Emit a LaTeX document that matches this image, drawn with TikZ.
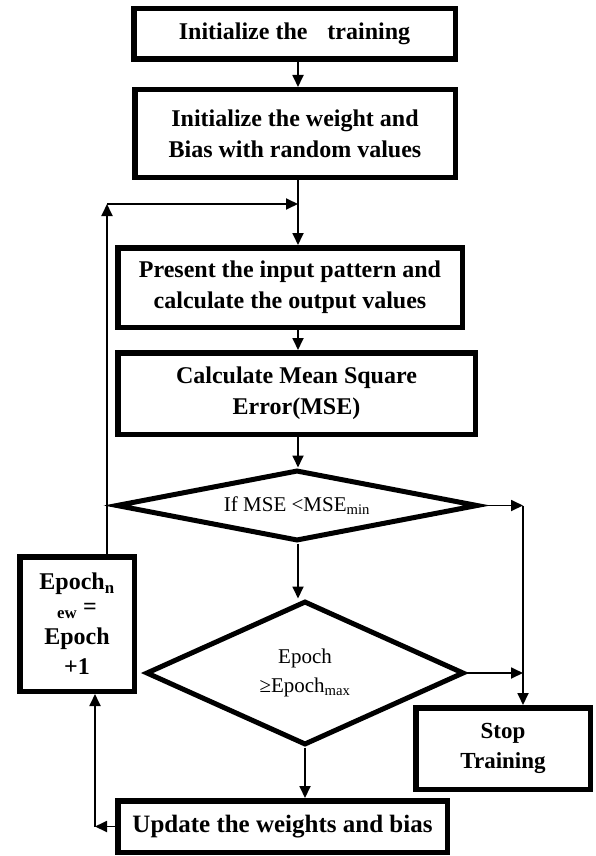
\documentclass[tikz,border=0pt]{standalone}
\usepackage{fontspec}
\setmainfont{Liberation Serif}
\usetikzlibrary{arrows.meta,shapes.geometric}
\begin{document}
\begin{tikzpicture}[x=1pt,y=-1pt,
  box/.style={draw, line width=5.5pt, rectangle, inner sep=0pt, align=center,
              font=\bfseries\fontsize{24}{31}\selectfont},
  dia/.style={draw, line width=5pt, diamond, inner sep=0pt, align=center,
              font=\fontsize{21}{29}\selectfont},
  arr/.style={line width=1.8pt, -{Triangle[length=12pt,width=11pt]}}]
\useasboundingbox (0,0) rectangle (595,856);

\node[box, minimum width=321.5pt, minimum height=50.5pt] (b1) at (294.5,34)
  {Initialize the\hspace{14pt} training};
\node[box, minimum width=320.5pt, minimum height=87.5pt] (b2) at (295,133.5)
  {Initialize the weight and\\Bias with random values};
\node[box, minimum width=344.5pt, minimum height=79.5pt] (b3) at (290,287.5)
  {Present the input pattern and\\calculate the output values};
\node[box, minimum width=357.5pt, minimum height=81.5pt] (b4) at (296.5,393.5)
  {Calculate Mean Square\\Error(MSE)};
\node[dia, aspect=5, minimum width=362pt, minimum height=71pt] (d1) at (297,505.5)
  {If MSE <MSE\textsubscript{min}};
\node[dia, aspect=2.2, minimum width=318pt, minimum height=144pt] (d2) at (305,673)
  {Epoch\\≥Epoch\textsubscript{max}};
\node[box, minimum width=114.5pt, minimum height=134.5pt,
      font=\bfseries\fontsize{24}{30}\selectfont] (epoch) at (77,624)
  {Epoch\textsubscript{n}\\[-5pt]\textsubscript{ew} =\\Epoch\\+1};
\node[box, minimum width=174.5pt, minimum height=81.5pt,
      font=\bfseries\fontsize{23}{30}\selectfont] (stop) at (503,748.5)
  {Stop\\Training};
\node[box, minimum width=329.5pt, minimum height=51.5pt,
      font=\bfseries\fontsize{25}{31}\selectfont] (upd) at (282.5,826.5)
  {Update the weights and bias};

\coordinate (spine) at (298,0);
\coordinate (rx) at (523,0);
\coordinate (lx) at (95,0);
\coordinate (tx) at (107,0);
\coordinate (corner) at (107,204);
\coordinate (join) at (298,204);

\draw[arr] (b1.south -| spine) -- (b2.north -| spine);
\draw[arr] (b2.south -| spine) -- (b3.north -| spine);
\draw[arr] (b3.south -| spine) -- (b4.north -| spine);
\draw[arr] (b4.south -| spine) -- (d1.north -| spine);
\draw[arr] (d1.south -| spine) -- (d2.north -| spine);
\draw[arr] (d2.south) -- (d2.south |- upd.north);

\draw[arr] (d1.east) -- (d1.east -| rx);
\draw[arr] (d2.east) -- (d2.east -| rx);
\draw[arr] (d1.east -| rx) -- (stop.north -| rx);

\draw[arr] (upd.west) -- (upd.west -| lx);
\draw[arr] (upd.west -| lx) -- (epoch.south -| lx);

\draw[arr] (epoch.north -| tx) -- (corner);
\draw[arr] (corner) -- (join);
\end{tikzpicture}
\end{document}
